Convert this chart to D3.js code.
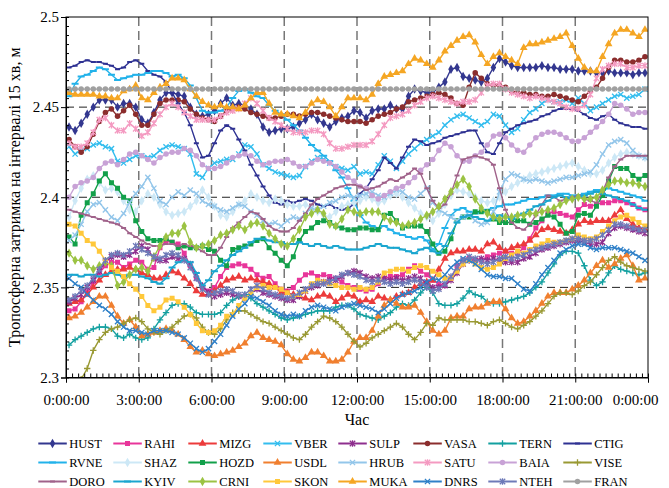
<!DOCTYPE html>
<html>
<head>
<meta charset="utf-8">
<script src="https://cdn.jsdelivr.net/npm/d3@7"></script>
<style>
  body { margin: 0; background: #fff; }
  svg { display: block; }
  text { font-family: "Liberation Serif", "Times New Roman", serif; fill: #000; }
</style>
</head>
<body>
<svg id="chart" width="669" height="488"></svg>
<script>
// Tropospheric delay per station, 15-minute intervals over one day (metres)
const HUST = [2.439,2.437,2.441,2.446, 2.450,2.454,2.454,2.454, 2.450,2.452,2.452,2.450, 2.443,2.441,2.447,2.454,
  2.458,2.458,2.457,2.456, 2.450,2.446,2.445,2.446, 2.448,2.452,2.455,2.451, 2.452,2.451,2.449,2.446,
  2.439,2.436,2.437,2.438, 2.438,2.439,2.441,2.443, 2.446,2.443,2.441,2.439, 2.442,2.444,2.445,2.448,
  2.447,2.444,2.448,2.449, 2.449,2.451,2.449,2.449, 2.456,2.460,2.459,2.458, 2.458,2.461,2.464,2.471,
  2.472,2.467,2.466,2.465, 2.464,2.466,2.472,2.477, 2.475,2.473,2.472,2.472, 2.472,2.472,2.473,2.472,
  2.472,2.471,2.471,2.471, 2.470,2.470,2.470,2.469, 2.469,2.470,2.469,2.469, 2.469,2.468,2.469,2.469];
const RAHI = [2.337,2.338,2.342,2.347, 2.353,2.358,2.362,2.364, 2.364,2.361,2.363,2.365, 2.364,2.360,2.361,2.372,
  2.376,2.375,2.374,2.369, 2.362,2.355,2.350,2.348, 2.350,2.356,2.361,2.362, 2.363,2.362,2.360,2.357,
  2.355,2.356,2.352,2.349, 2.348,2.350,2.354,2.357, 2.358,2.356,2.357,2.356, 2.355,2.353,2.351,2.350,
  2.349,2.348,2.349,2.352, 2.355,2.356,2.356,2.357, 2.360,2.362,2.359,2.357, 2.354,2.352,2.351,2.355,
  2.362,2.365,2.366,2.365, 2.365,2.367,2.368,2.369, 2.370,2.369,2.369,2.372, 2.377,2.383,2.387,2.391,
  2.392,2.391,2.390,2.389, 2.393,2.396,2.395,2.396, 2.397,2.397,2.398,2.398, 2.397,2.396,2.394,2.393];
const MIZG = [2.341,2.342,2.343,2.346, 2.350,2.354,2.357,2.359, 2.360,2.360,2.361,2.360, 2.358,2.357,2.355,2.355,
  2.357,2.359,2.358,2.355, 2.352,2.348,2.346,2.346, 2.348,2.351,2.354,2.355, 2.356,2.354,2.355,2.354,
  2.353,2.352,2.350,2.347, 2.347,2.346,2.345,2.344, 2.343,2.345,2.346,2.345, 2.342,2.344,2.346,2.345,
  2.342,2.343,2.342,2.345, 2.344,2.343,2.345,2.346, 2.347,2.350,2.352,2.353, 2.354,2.360,2.366,2.369,
  2.370,2.370,2.371,2.371, 2.370,2.374,2.375,2.372, 2.370,2.372,2.373,2.374, 2.376,2.379,2.382,2.383,
  2.382,2.381,2.380,2.382, 2.385,2.387,2.386,2.387, 2.387,2.387,2.390,2.393, 2.388,2.385,2.383,2.382];
const VBER = [2.428,2.424,2.426,2.427, 2.429,2.430,2.428,2.427, 2.420,2.419,2.421,2.423, 2.423,2.422,2.423,2.426,
  2.428,2.429,2.428,2.427, 2.424,2.413,2.411,2.416, 2.419,2.420,2.421,2.421, 2.424,2.429,2.428,2.424,
  2.418,2.416,2.414,2.413, 2.412,2.411,2.412,2.417, 2.420,2.422,2.421,2.419, 2.417,2.416,2.415,2.417,
  2.413,2.414,2.413,2.418, 2.423,2.420,2.416,2.420, 2.424,2.427,2.430,2.432, 2.434,2.436,2.440,2.443,
  2.445,2.446,2.444,2.442, 2.440,2.442,2.446,2.445, 2.440,2.436,2.438,2.443, 2.447,2.449,2.452,2.454,
  2.453,2.453,2.454,2.452, 2.455,2.452,2.448,2.450, 2.452,2.454,2.456,2.457, 2.455,2.456,2.457,2.460];
const SULP = [2.342,2.344,2.346,2.350, 2.354,2.359,2.364,2.367, 2.368,2.367,2.368,2.370, 2.373,2.371,2.366,2.365,
  2.365,2.367,2.366,2.366, 2.363,2.357,2.351,2.347, 2.345,2.346,2.347,2.346, 2.345,2.344,2.347,2.349,
  2.347,2.346,2.345,2.344, 2.343,2.343,2.345,2.348, 2.350,2.351,2.353,2.354, 2.354,2.356,2.358,2.359,
  2.358,2.356,2.355,2.356, 2.355,2.354,2.355,2.354, 2.355,2.356,2.355,2.352, 2.350,2.350,2.351,2.354,
  2.358,2.363,2.365,2.365, 2.366,2.365,2.366,2.365, 2.364,2.364,2.364,2.366, 2.367,2.369,2.371,2.372,
  2.373,2.374,2.375,2.376, 2.376,2.375,2.374,2.374, 2.375,2.380,2.383,2.384, 2.383,2.382,2.381,2.380];
const VASA = [2.432,2.428,2.425,2.428, 2.435,2.442,2.447,2.449, 2.445,2.448,2.451,2.446, 2.440,2.440,2.446,2.452,
  2.454,2.454,2.454,2.453, 2.449,2.446,2.444,2.443, 2.442,2.445,2.448,2.449, 2.450,2.449,2.447,2.446,
  2.445,2.444,2.444,2.445, 2.446,2.446,2.445,2.446, 2.447,2.447,2.446,2.445, 2.444,2.443,2.442,2.442,
  2.442,2.441,2.443,2.445, 2.446,2.447,2.449,2.450, 2.453,2.454,2.455,2.456, 2.457,2.458,2.457,2.455,
  2.452,2.451,2.461,2.469, 2.466,2.463,2.462,2.462, 2.461,2.459,2.458,2.458, 2.457,2.457,2.456,2.456,
  2.457,2.456,2.455,2.454, 2.453,2.456,2.459,2.461, 2.466,2.472,2.476,2.476, 2.475,2.475,2.476,2.478];
const TERN = [2.318,2.321,2.323,2.325, 2.327,2.328,2.328,2.327, 2.323,2.322,2.324,2.322, 2.321,2.322,2.327,2.332,
  2.336,2.340,2.341,2.341, 2.339,2.336,2.335,2.335, 2.335,2.336,2.340,2.343, 2.345,2.346,2.344,2.341,
  2.339,2.337,2.335,2.333, 2.332,2.333,2.334,2.335, 2.336,2.337,2.337,2.337, 2.339,2.340,2.340,2.338,
  2.335,2.334,2.333,2.332, 2.334,2.336,2.339,2.341, 2.340,2.343,2.347,2.350, 2.347,2.341,2.340,2.340,
  2.341,2.344,2.348,2.346, 2.345,2.342,2.341,2.341, 2.342,2.343,2.344,2.345, 2.347,2.350,2.353,2.358,
  2.363,2.368,2.370,2.370, 2.369,2.362,2.354,2.351, 2.353,2.358,2.362,2.360, 2.359,2.358,2.357,2.358];
const CTIG = [2.472,2.473,2.475,2.476, 2.475,2.475,2.474,2.473, 2.471,2.472,2.475,2.476, 2.474,2.470,2.468,2.467,
  2.464,2.458,2.452,2.447, 2.440,2.430,2.422,2.423, 2.430,2.437,2.440,2.438, 2.432,2.426,2.418,2.412,
  2.406,2.401,2.397,2.396, 2.398,2.397,2.398,2.399, 2.398,2.396,2.395,2.396, 2.394,2.393,2.394,2.396,
  2.402,2.405,2.410,2.415, 2.422,2.419,2.416,2.422, 2.428,2.432,2.431,2.429, 2.430,2.431,2.433,2.434,
  2.435,2.436,2.437,2.437, 2.430,2.425,2.424,2.430, 2.436,2.438,2.440,2.441, 2.442,2.443,2.445,2.446,
  2.448,2.449,2.449,2.449, 2.448,2.446,2.444,2.443, 2.445,2.446,2.443,2.441, 2.440,2.439,2.439,2.438];
const RVNE = [2.456,2.463,2.467,2.468, 2.470,2.472,2.471,2.468, 2.465,2.466,2.467,2.468, 2.468,2.469,2.470,2.470,
  2.469,2.467,2.468,2.466, 2.462,2.455,2.448,2.447, 2.447,2.448,2.450,2.455, 2.459,2.460,2.458,2.456,
  2.455,2.451,2.448,2.446, 2.443,2.440,2.437,2.433, 2.429,2.426,2.423,2.420, 2.415,2.411,2.405,2.398,
  2.390,2.386,2.384,2.383, 2.384,2.382,2.380,2.379, 2.378,2.377,2.378,2.376, 2.371,2.374,2.383,2.390,
  2.393,2.394,2.392,2.391, 2.392,2.393,2.394,2.395, 2.396,2.396,2.397,2.398, 2.399,2.399,2.400,2.401,
  2.401,2.402,2.402,2.401, 2.401,2.402,2.403,2.404, 2.404,2.405,2.404,2.403, 2.402,2.401,2.400,2.398];
const SHAZ = [2.389,2.398,2.405,2.410, 2.412,2.408,2.404,2.405, 2.403,2.398,2.393,2.392, 2.398,2.402,2.400,2.396,
  2.392,2.390,2.391,2.392, 2.395,2.398,2.404,2.400, 2.395,2.390,2.389,2.392, 2.396,2.398,2.402,2.400,
  2.398,2.397,2.399,2.398, 2.396,2.395,2.395,2.396, 2.394,2.392,2.390,2.389, 2.392,2.395,2.396,2.397,
  2.398,2.400,2.399,2.397, 2.398,2.401,2.402,2.400, 2.397,2.394,2.391,2.389, 2.387,2.391,2.396,2.401,
  2.404,2.403,2.402,2.400, 2.398,2.397,2.398,2.400, 2.403,2.406,2.408,2.410, 2.412,2.413,2.414,2.415,
  2.416,2.417,2.418,2.419, 2.417,2.415,2.413,2.413, 2.415,2.419,2.422,2.424, 2.425,2.424,2.423,2.422];
const HOZD = [2.378,2.374,2.390,2.397, 2.402,2.409,2.413,2.408, 2.405,2.400,2.398,2.387, 2.381,2.377,2.376,2.376,
  2.377,2.375,2.372,2.373, 2.372,2.372,2.373,2.371, 2.370,2.365,2.362,2.371, 2.372,2.373,2.374,2.376,
  2.377,2.372,2.369,2.365, 2.362,2.367,2.376,2.381, 2.383,2.386,2.387,2.386, 2.384,2.383,2.382,2.382,
  2.383,2.383,2.382,2.382, 2.390,2.391,2.387,2.383, 2.384,2.384,2.384,2.381, 2.374,2.369,2.370,2.377,
  2.387,2.389,2.389,2.392, 2.392,2.392,2.388,2.386, 2.386,2.386,2.387,2.387, 2.385,2.386,2.388,2.390,
  2.389,2.385,2.380,2.381, 2.390,2.391,2.390,2.395, 2.401,2.409,2.417,2.416, 2.416,2.412,2.410,2.412];
const USDL = [2.333,2.334,2.336,2.339, 2.342,2.345,2.345,2.340, 2.334,2.330,2.332,2.328, 2.323,2.324,2.325,2.326,
  2.327,2.326,2.324,2.321, 2.317,2.314,2.315,2.313, 2.312,2.313,2.314,2.315, 2.317,2.319,2.323,2.325,
  2.322,2.321,2.320,2.318, 2.313,2.310,2.309,2.311, 2.314,2.314,2.312,2.309, 2.309,2.310,2.314,2.320,
  2.322,2.322,2.326,2.334, 2.340,2.343,2.341,2.339, 2.339,2.340,2.336,2.331, 2.326,2.324,2.326,2.333,
  2.334,2.334,2.338,2.339, 2.339,2.341,2.342,2.342, 2.338,2.333,2.330,2.331, 2.334,2.337,2.341,2.345,
  2.347,2.347,2.347,2.349, 2.351,2.354,2.358,2.362, 2.365,2.361,2.363,2.366, 2.368,2.362,2.354,2.355];
const HRUB = [2.376,2.379,2.385,2.392, 2.396,2.397,2.393,2.389, 2.387,2.391,2.397,2.402, 2.406,2.411,2.405,2.398,
  2.396,2.400,2.403,2.401, 2.404,2.402,2.398,2.396, 2.395,2.393,2.392,2.394, 2.396,2.395,2.392,2.390,
  2.387,2.385,2.386,2.384, 2.387,2.389,2.388,2.391, 2.394,2.393,2.395,2.397, 2.398,2.400,2.401,2.400,
  2.401,2.402,2.403,2.401, 2.400,2.402,2.404,2.403, 2.400,2.399,2.402,2.405, 2.397,2.393,2.391,2.389,
  2.387,2.389,2.390,2.387, 2.385,2.386,2.392,2.403, 2.410,2.413,2.412,2.410, 2.409,2.410,2.409,2.408,
  2.409,2.410,2.411,2.411, 2.412,2.413,2.414,2.418, 2.424,2.429,2.431,2.432, 2.430,2.426,2.423,2.422];
const SATU = [2.430,2.428,2.428,2.430, 2.436,2.443,2.444,2.440, 2.437,2.437,2.441,2.438, 2.434,2.436,2.441,2.446,
  2.450,2.452,2.450,2.447, 2.445,2.443,2.443,2.443, 2.443,2.445,2.447,2.448, 2.449,2.452,2.455,2.452,
  2.448,2.444,2.442,2.440, 2.438,2.436,2.436,2.436, 2.437,2.437,2.435,2.430, 2.427,2.427,2.428,2.429,
  2.429,2.429,2.431,2.435, 2.440,2.444,2.445,2.446, 2.448,2.451,2.453,2.455, 2.456,2.455,2.454,2.453,
  2.452,2.453,2.453,2.454, 2.458,2.462,2.463,2.463, 2.460,2.458,2.457,2.456, 2.455,2.456,2.455,2.454,
  2.453,2.452,2.450,2.449, 2.449,2.451,2.457,2.466, 2.471,2.473,2.474,2.474, 2.472,2.472,2.473,2.473];
const BAIA = [2.400,2.406,2.408,2.409, 2.411,2.416,2.419,2.420, 2.418,2.421,2.424,2.425, 2.423,2.421,2.419,2.422,
  2.424,2.425,2.425,2.427, 2.426,2.423,2.418,2.416, 2.416,2.417,2.419,2.422, 2.423,2.424,2.423,2.420,
  2.418,2.419,2.420,2.420, 2.421,2.419,2.417,2.417, 2.419,2.421,2.420,2.419, 2.417,2.414,2.411,2.409,
  2.406,2.405,2.401,2.399, 2.401,2.403,2.405,2.406, 2.408,2.411,2.415,2.418, 2.421,2.426,2.430,2.428,
  2.423,2.420,2.420,2.423, 2.425,2.429,2.434,2.435, 2.433,2.429,2.426,2.425, 2.429,2.433,2.435,2.436,
  2.436,2.435,2.433,2.431, 2.431,2.433,2.436,2.439, 2.442,2.446,2.452,2.451, 2.449,2.446,2.447,2.447];
const VISE = [2.284,2.292,2.299,2.305, 2.315,2.321,2.325,2.327, 2.328,2.330,2.332,2.333, 2.331,2.327,2.325,2.324,
  2.326,2.328,2.331,2.334, 2.335,2.333,2.328,2.325, 2.324,2.327,2.332,2.336, 2.337,2.337,2.335,2.333,
  2.331,2.330,2.328,2.326, 2.324,2.322,2.321,2.324, 2.328,2.331,2.334,2.333, 2.331,2.328,2.324,2.320,
  2.317,2.319,2.322,2.324, 2.326,2.328,2.330,2.328, 2.324,2.321,2.325,2.330, 2.329,2.333,2.332,2.332,
  2.332,2.332,2.331,2.331, 2.330,2.329,2.331,2.332, 2.330,2.328,2.327,2.329, 2.331,2.334,2.337,2.341,
  2.345,2.347,2.347,2.346, 2.348,2.351,2.353,2.357, 2.361,2.365,2.367,2.364, 2.362,2.361,2.360,2.359];
const DORO = [2.393,2.392,2.391,2.390, 2.389,2.388,2.387,2.386, 2.385,2.383,2.380,2.378, 2.376,2.374,2.373,2.373,
  2.374,2.374,2.373,2.374, 2.373,2.372,2.370,2.368, 2.368,2.372,2.378,2.383, 2.386,2.389,2.392,2.391,
  2.388,2.384,2.382,2.381, 2.381,2.383,2.387,2.391, 2.396,2.399,2.401,2.403, 2.405,2.406,2.407,2.407,
  2.406,2.404,2.405,2.406, 2.408,2.410,2.409,2.411, 2.413,2.416,2.413,2.405, 2.398,2.394,2.396,2.402,
  2.412,2.421,2.422,2.423, 2.422,2.421,2.418,2.405, 2.393,2.386,2.383,2.382, 2.385,2.390,2.396,2.401,
  2.400,2.398,2.399,2.400, 2.401,2.399,2.398,2.397, 2.403,2.411,2.417,2.421, 2.423,2.423,2.423,2.423];
const KYIV = [2.357,2.357,2.356,2.357, 2.357,2.356,2.357,2.358, 2.357,2.356,2.357,2.357, 2.356,2.355,2.353,2.352,
  2.355,2.361,2.364,2.365, 2.364,2.358,2.351,2.354, 2.359,2.362,2.365,2.368, 2.370,2.372,2.375,2.377,
  2.377,2.376,2.375,2.375, 2.374,2.374,2.375,2.374, 2.373,2.374,2.373,2.372, 2.373,2.372,2.371,2.371,
  2.371,2.372,2.373,2.374, 2.373,2.372,2.372,2.371, 2.370,2.369,2.371,2.372, 2.370,2.369,2.373,2.380,
  2.386,2.389,2.390,2.389, 2.388,2.387,2.388,2.390, 2.389,2.388,2.390,2.391, 2.393,2.395,2.396,2.398,
  2.400,2.401,2.400,2.399, 2.400,2.401,2.402,2.403, 2.402,2.401,2.400,2.399, 2.398,2.396,2.394,2.393];
const CRNI = [2.369,2.365,2.365,2.362, 2.360,2.362,2.364,2.362, 2.351,2.353,2.357,2.360, 2.361,2.359,2.367,2.373,
  2.378,2.380,2.380,2.384, 2.375,2.372,2.373,2.374, 2.376,2.379,2.380,2.382, 2.384,2.382,2.385,2.386,
  2.384,2.380,2.377,2.374, 2.373,2.377,2.382,2.389, 2.391,2.393,2.391,2.385, 2.384,2.388,2.393,2.392,
  2.391,2.392,2.392,2.392, 2.389,2.387,2.386,2.384, 2.385,2.386,2.388,2.390, 2.392,2.395,2.399,2.403,
  2.407,2.410,2.406,2.399, 2.394,2.391,2.389,2.388, 2.389,2.389,2.390,2.390, 2.391,2.391,2.392,2.393,
  2.394,2.396,2.398,2.399, 2.400,2.399,2.399,2.400, 2.404,2.407,2.409,2.409, 2.408,2.408,2.407,2.406];
const SKON = [2.385,2.384,2.380,2.376, 2.374,2.370,2.365,2.361, 2.359,2.356,2.352,2.349, 2.345,2.340,2.337,2.339,
  2.343,2.344,2.342,2.339, 2.335,2.330,2.326,2.325, 2.326,2.329,2.334,2.335, 2.340,2.344,2.347,2.350,
  2.351,2.350,2.350,2.349, 2.347,2.345,2.346,2.348, 2.352,2.354,2.353,2.352, 2.351,2.350,2.350,2.349,
  2.350,2.349,2.350,2.353, 2.358,2.359,2.360,2.360, 2.359,2.361,2.362,2.361, 2.359,2.357,2.355,2.355,
  2.359,2.363,2.365,2.363, 2.361,2.360,2.361,2.363, 2.366,2.368,2.370,2.369, 2.371,2.373,2.374,2.376,
  2.375,2.375,2.376,2.377, 2.379,2.378,2.377,2.378, 2.381,2.384,2.387,2.389, 2.390,2.388,2.386,2.384];
const MUKA = [2.458,2.457,2.457,2.457, 2.457,2.456,2.456,2.455, 2.455,2.459,2.460,2.462, 2.455,2.454,2.458,2.461,
  2.463,2.466,2.466,2.465, 2.460,2.456,2.453,2.451, 2.450,2.451,2.450,2.450, 2.449,2.451,2.455,2.458,
  2.458,2.452,2.447,2.446, 2.446,2.445,2.444,2.447, 2.452,2.454,2.453,2.450, 2.445,2.450,2.455,2.455,
  2.455,2.454,2.457,2.463, 2.467,2.468,2.469,2.470, 2.474,2.477,2.476,2.474, 2.472,2.476,2.481,2.484,
  2.487,2.489,2.490,2.486, 2.479,2.474,2.478,2.480, 2.478,2.476,2.474,2.483, 2.485,2.485,2.486,2.487,
  2.488,2.489,2.491,2.484, 2.477,2.472,2.470,2.470, 2.478,2.485,2.491,2.493, 2.493,2.491,2.489,2.493];
const DNRS = [2.355,2.352,2.350,2.346, 2.343,2.340,2.338,2.335, 2.331,2.328,2.326,2.326, 2.325,2.324,2.326,2.326,
  2.326,2.325,2.324,2.322, 2.319,2.316,2.314,2.316, 2.320,2.324,2.329,2.334, 2.338,2.341,2.345,2.344,
  2.342,2.340,2.337,2.335, 2.334,2.335,2.334,2.337, 2.339,2.340,2.339,2.338, 2.337,2.339,2.340,2.341,
  2.340,2.339,2.338,2.336, 2.338,2.341,2.344,2.346, 2.347,2.348,2.350,2.353, 2.355,2.354,2.357,2.361,
  2.364,2.366,2.365,2.363, 2.360,2.357,2.356,2.356, 2.355,2.355,2.352,2.349, 2.348,2.352,2.357,2.361,
  2.365,2.369,2.371,2.373, 2.374,2.374,2.372,2.371, 2.372,2.372,2.372,2.371, 2.370,2.369,2.367,2.365];
const NTEH = [2.343,2.345,2.348,2.351, 2.355,2.360,2.365,2.368, 2.369,2.368,2.370,2.373, 2.371,2.369,2.367,2.366,
  2.368,2.369,2.368,2.365, 2.361,2.355,2.349,2.346, 2.347,2.348,2.349,2.348, 2.346,2.346,2.349,2.351,
  2.349,2.347,2.346,2.345, 2.344,2.345,2.347,2.349, 2.351,2.352,2.352,2.353, 2.355,2.357,2.358,2.357,
  2.356,2.354,2.353,2.354, 2.353,2.352,2.353,2.352, 2.353,2.354,2.353,2.350, 2.348,2.349,2.352,2.356,
  2.361,2.365,2.367,2.366, 2.364,2.363,2.364,2.366, 2.367,2.366,2.367,2.368, 2.370,2.371,2.372,2.373,
  2.374,2.375,2.376,2.377, 2.377,2.376,2.376,2.377, 2.379,2.382,2.385,2.385, 2.384,2.383,2.382,2.382];
const FRAN = [2.46,2.46,2.46,2.46, 2.46,2.46,2.46,2.46, 2.46,2.46,2.46,2.46, 2.46,2.46,2.46,2.46,
  2.46,2.46,2.46,2.46, 2.46,2.46,2.46,2.46, 2.46,2.46,2.46,2.46, 2.46,2.46,2.46,2.46,
  2.46,2.46,2.46,2.46, 2.46,2.46,2.46,2.46, 2.46,2.46,2.46,2.46, 2.46,2.46,2.46,2.46,
  2.46,2.46,2.46,2.46, 2.46,2.46,2.46,2.46, 2.46,2.46,2.46,2.46, 2.46,2.46,2.46,2.46,
  2.46,2.46,2.46,2.46, 2.46,2.46,2.46,2.46, 2.46,2.46,2.46,2.46, 2.46,2.46,2.46,2.46,
  2.46,2.46,2.46,2.46, 2.46,2.46,2.46,2.46, 2.46,2.46,2.46,2.46, 2.46,2.46,2.46,2.46];

// Series in legend order (row by row)
const stationNames = ["HUST","RAHI","MIZG","VBER","SULP","VASA","TERN","CTIG",
                      "RVNE","SHAZ","HOZD","USDL","HRUB","SATU","BAIA","VISE",
                      "DORO","KYIV","CRNI","SKON","MUKA","DNRS","NTEH","FRAN"];
const stationValues = [HUST,RAHI,MIZG,VBER,SULP,VASA,TERN,CTIG,
                       RVNE,SHAZ,HOZD,USDL,HRUB,SATU,BAIA,VISE,
                       DORO,KYIV,CRNI,SKON,MUKA,DNRS,NTEH,FRAN];

// Interval midpoints, minutes from 0:00
const intervalMinutes = d3.range(96).map(i => 7.5 + 15 * i);
const yTickValues = [2.3, 2.35, 2.4, 2.45, 2.5];
const xTickMinutes = [0, 180, 360, 540, 720, 900, 1080, 1260, 1440];
const xTickLabels = ["0:00:00","3:00:00","6:00:00","9:00:00","12:00:00","15:00:00","18:00:00","21:00:00","0:00:00"];
const yTitle = "Тропосферна затримка на інтервалі 15 хв, м";
const xTitle = "Час";

// Styling
const seriesColors = ["#33378F","#E8359A","#EC3B3B","#33BDEE","#8E2F8E","#8B2D2D","#13A0A0","#2E3192",
                      "#22B2EA","#CDE8F6","#12A04A","#F07F2F","#93C6EA","#F49AC1","#C8A2D6","#999933",
                      "#A0628A","#1AA6CF","#9BC343","#FFC83A","#F5A623","#2F80C8","#6E7AB8","#A0A0A0"];
const markerKinds = ["diamond","square","triangle","x","asterisk","circle","plus","dash","longdash"];

const svg = d3.select("#chart");
const plotLeft = 66, plotRight = 648, plotTop = 17, plotBottom = 377.5;
const x = d3.scaleLinear().domain([0, 1440]).range([plotLeft, plotRight]);
const y = d3.scaleLinear().domain([2.3, 2.5]).range([plotBottom, plotTop]);

function markerPath(kind) {
  switch (kind) {
    case "diamond": return d3.symbol(d3.symbolDiamond, 26)();
    case "square": return d3.symbol(d3.symbolSquare, 25)();
    case "triangle": return d3.symbol(d3.symbolTriangle, 26)();
    case "x": return "M-2.6,-2.6L2.6,2.6M-2.6,2.6L2.6,-2.6";
    case "asterisk": return "M-2.7,-2.7L2.7,2.7M-2.7,2.7L2.7,-2.7M0,-3.3V3.3";
    case "circle": return d3.symbol(d3.symbolCircle, 24)();
    case "plus": return "M-3.2,0H3.2M0,-3.2V3.2";
    case "dash": return "M-2.5,-1h5v2h-5z";
    default: return "M-3.5,-1h7v2h-7z";
  }
}
const strokeKinds = new Set(["x", "asterisk", "plus"]);

// Grid lines
const grid = svg.append("g");
grid.selectAll("line.h").data([2.35, 2.4, 2.45]).join("line")
  .attr("x1", plotLeft).attr("x2", plotRight)
  .attr("y1", d => y(d)).attr("y2", d => y(d))
  .attr("stroke", "#222").attr("stroke-width", 1).attr("stroke-dasharray", "8,5");
grid.selectAll("line.v").data(xTickMinutes.slice(1, -1)).join("line")
  .attr("x1", d => x(d)).attr("x2", d => x(d))
  .attr("y1", plotTop).attr("y2", plotBottom)
  .attr("stroke", "#777").attr("stroke-width", 1.5).attr("stroke-dasharray", "9,5");

// Data
svg.append("clipPath").attr("id", "plotClip")
  .append("rect").attr("x", plotLeft).attr("y", plotTop)
  .attr("width", plotRight - plotLeft).attr("height", plotBottom - plotTop);
const plot = svg.append("g").attr("clip-path", "url(#plotClip)");
const line = d3.line().x((d, i) => x(intervalMinutes[i])).y(d => y(d));

stationNames.forEach((name, k) => {
  const color = seriesColors[k];
  const kind = markerKinds[k % 9];
  const g = plot.append("g");
  g.append("path").datum(stationValues[k])
    .attr("d", line).attr("fill", "none")
    .attr("stroke", color).attr("stroke-width", 1.4).attr("stroke-linejoin", "round");
  const path = markerPath(kind);
  g.selectAll("path.m").data(stationValues[k]).join("path")
    .attr("class", "m")
    .attr("transform", (d, i) => `translate(${x(intervalMinutes[i])},${y(d)})`)
    .attr("d", path)
    .attr("fill", strokeKinds.has(kind) ? "none" : color)
    .attr("stroke", strokeKinds.has(kind) ? color : "none")
    .attr("stroke-width", 1.3);
});

// Frame
svg.append("rect").attr("x", plotLeft).attr("y", plotTop)
  .attr("width", plotRight - plotLeft).attr("height", plotBottom - plotTop)
  .attr("fill", "none").attr("stroke", "#000").attr("stroke-width", 1);

// Y axis
const yAxis = svg.append("g").attr("transform", `translate(${plotLeft},0)`)
  .call(d3.axisLeft(y).tickValues(yTickValues).tickSize(5).tickPadding(2)
    .tickFormat(d => String(+d.toFixed(2))));
yAxis.selectAll("text").attr("font-size", "15px").attr("font-family", "Liberation Serif");
const yMinor = d3.range(0, 41).map(i => 2.3 + i * 0.005);
svg.append("g").attr("transform", `translate(${plotLeft},0)`)
  .call(d3.axisRight(y).tickValues(yMinor).tickSize(3).tickFormat(""))
  .select(".domain").remove();

// X axis
const xAxis = svg.append("g").attr("transform", `translate(0,${plotBottom})`)
  .call(d3.axisBottom(x).tickValues(xTickMinutes).tickSize(5).tickPadding(12)
    .tickFormat((d, i) => xTickLabels[i]));
xAxis.selectAll("text").attr("font-size", "15px").attr("font-family", "Liberation Serif");
// the closing midnight label is pulled inside the canvas
xAxis.selectAll(".tick:last-of-type text").attr("text-anchor", "end").attr("x", 10);
svg.append("g").attr("transform", `translate(0,${plotBottom})`)
  .call(d3.axisTop(x).tickValues(d3.range(0, 1441, 15)).tickSize(4).tickFormat(""))
  .select(".domain").remove();

// Axis titles
svg.append("text").attr("transform", `translate(20,${(plotTop + plotBottom) / 2}) rotate(-90)`)
  .attr("text-anchor", "middle").attr("font-size", "16px").text(yTitle);
svg.append("text").attr("x", (plotLeft + plotRight) / 2).attr("y", 425)
  .attr("text-anchor", "middle").attr("font-size", "16px").text(xTitle);

// Legend
const legend = svg.append("g");
stationNames.forEach((name, k) => {
  const col = k % 8, row = Math.floor(k / 8);
  const lx = 38.3 + col * 75, ly = 443.5 + row * 19;
  const color = seriesColors[k];
  const kind = markerKinds[k % 9];
  const item = legend.append("g").attr("transform", `translate(${lx},${ly})`);
  item.append("line").attr("x1", 0).attr("x2", 28.5).attr("y1", 0).attr("y2", 0)
    .attr("stroke", color).attr("stroke-width", 2);
  item.append("path").attr("transform", "translate(14.2,0)").attr("d", markerPath(kind))
    .attr("fill", strokeKinds.has(kind) ? "none" : color)
    .attr("stroke", strokeKinds.has(kind) ? color : "none").attr("stroke-width", 1.3);
  item.append("text").attr("x", 31).attr("y", 0).attr("dy", "0.35em")
    .attr("font-size", "12.5px").text(name);
});
</script>
</body>
</html>
